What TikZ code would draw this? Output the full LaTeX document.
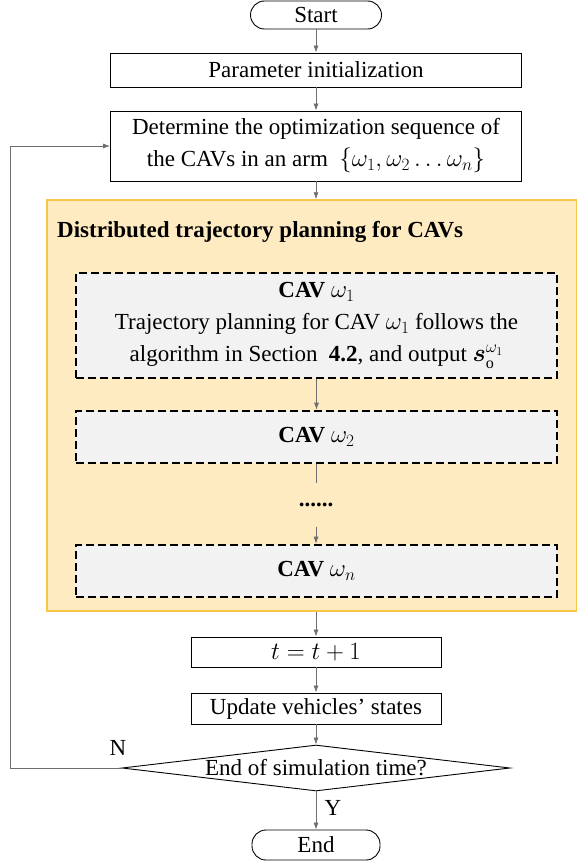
\documentclass[tikz,border=0pt]{standalone}
\usepackage{fontspec}
\setmainfont{Liberation Serif}
\usepackage{amsmath, amssymb}
\usepackage{tikz}
\usetikzlibrary{shapes.geometric, arrows.meta, positioning}
\definecolor{planfill}{HTML}{FFEBC2}
\definecolor{planline}{HTML}{F7C646}
\definecolor{cavfill}{HTML}{F2F2F2}
\definecolor{linkgray}{HTML}{6E6E6E}

\begin{document}
\begin{tikzpicture}[x=1pt, y=-1pt,
    every node/.style={font=\fontsize{23}{32}\selectfont},
    proc/.style={draw, line width=0.9pt, align=center, inner sep=0pt},
    term/.style={proc, rounded corners=14pt},
    cavbox/.style={draw, fill=cavfill, line width=2.6pt, dash pattern=on 8pt off 4pt,
                   minimum width=481pt, align=center, inner sep=0pt},
    link/.style={linkgray, line width=0.7pt, -{Latex[length=7pt, width=5pt]}}]
  \useasboundingbox (0,0) rectangle (577,867);

  % Start and initialization
  \node[term, minimum width=131pt, minimum height=28pt] (start) at (316,15) {Start};
  \node[proc, minimum width=411pt, minimum height=34pt] (param) at (316,70) {Parameter initialization};
  \node[proc, minimum width=411pt, minimum height=70pt] (det) at (316,146)
    {Determine the optimization sequence of\\the CAVs in an arm \ $\{\omega_1, \omega_2 \ldots \omega_n\}$};

  % Distributed planning block
  \node[fill=planfill, draw=planline, line width=1.5pt, minimum width=530pt, minimum height=411pt,
        inner sep=0pt] (dist) at (312,405.5) {};
  \node[anchor=west, inner sep=0pt] (title) at (57,232) {\textbf{Distributed trajectory planning for CAVs}};

  \node[cavbox, minimum height=105pt] (cav1) at (316.5,325.5)
    {\textbf{CAV} $\omega_1$\\Trajectory planning for CAV $\omega_1$ follows the\\
     algorithm in Section \ \textbf{4.2}, and output $\boldsymbol{s}_{\mathrm{o}}^{\omega_1}$};
  \node[cavbox, minimum height=52pt] (cav2) at (316.5,437) {\textbf{CAV} $\omega_2$};
  \node[minimum height=43pt, inner sep=0pt] (dots) at (316,505) {\textbf{......}};
  \node[cavbox, minimum height=52pt] (cavn) at (316.5,571) {\textbf{CAV} $\omega_n$};

  % Update and check
  \node[proc, minimum width=250pt, minimum height=30pt] (tstep) at (316,652) {$t = t + 1$};
  \node[proc, minimum width=250pt, minimum height=31pt] (upd) at (316,708.5) {Update vehicles' states};
  \node[diamond, draw, line width=0.9pt, minimum width=388pt, minimum height=46pt, inner sep=0pt]
    (dec) at (316,768) {\makebox[0pt]{End of simulation time?}};
  \node[term, minimum width=128pt, minimum height=30pt] (endn) at (316,845) {End};

  \node (nlab) at (118,748) {N};
  \node (ylab) at (333,808) {Y};
  \coordinate (loop) at (10,768);

  % Connectors
  \draw[link] (start) -- (param);
  \draw[link] (param) -- (det);
  \draw[link] (det) -- (det |- dist.north);
  \draw[link] (cav1) -- (cav2);
  \draw[linkgray, line width=0.7pt] (cav2.south -| dots) -- (dots.north);
  \draw[link] (dots.south) -- (cavn.north -| dots);
  \draw[link] (dist.south -| tstep) -- (tstep);
  \draw[link] (tstep) -- (upd);
  \draw[link] (upd) -- (dec);
  \draw[link] (dec) -- (endn);
  \draw[link] (dec.west) -- (loop) |- (det.west);
\end{tikzpicture}
\end{document}
